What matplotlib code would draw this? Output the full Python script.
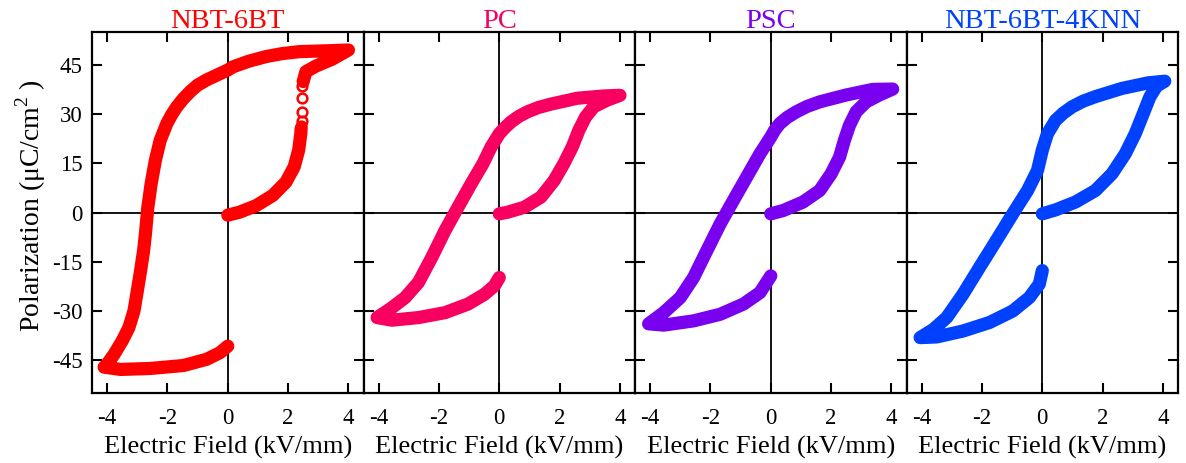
# P-E hysteresis loops for four compositions
import matplotlib
matplotlib.use('Agg')
import matplotlib.pyplot as plt

plt.rcParams['font.family'] = ['Liberation Serif', 'DejaVu Serif']
plt.rcParams['mathtext.fontset'] = 'custom'
plt.rcParams['mathtext.rm'] = 'Liberation Serif'
plt.rcParams['axes.unicode_minus'] = False

# -----------------------------------------------------------------------------
names = ['NBT-6BT', 'PC', 'PSC', 'NBT-6BT-4KNN']
colors = ['#ff0000', '#f7005f', '#7a00f0', '#0040ff']

# NBT-6BT: initial branch (below jump), sparse points in jump, rest of loop
nbt_e0 = [0, 0.39, 0.94, 1.49, 1.93, 2.2, 2.35, 2.42, 2.43]
nbt_p0 = [-0.8, 0.1, 2.1, 5.2, 9.3, 13.9, 19, 24, 25.5]
nbt_ej = [2.44, 2.45, 2.45, 2.45, 2.45]
nbt_pj = [26.5, 28, 30.7, 34.8, 38.5]
nbt_e = [2.5, 2.59, 2.92, 3.46, 4.0, 3.4, 2.37, 1.8, 1.27, 0.7, 0.18, 0, -0.7,
         -1.0, -1.25, -1.48, -1.69, -1.86, -2.02, -2.24, -2.4, -2.54, -2.65,
         -2.73, -2.79, -2.89, -3.0, -3.11, -3.28, -3.5, -3.77, -4.01, -4.1,
         -3.55, -2.57, -1.47, -0.7, -0.26, 0]
nbt_p = [39.9, 42.9, 44.6, 46.7, 49.5, 49.3, 49, 48.4, 47.5, 46.1, 44.4, 43.4,
         40.4, 38.8, 36.8, 34.6, 32.2, 29.8, 27.1, 22, 15.9, 8.8, 1.6,
         -6.5, -11.6, -17.7, -23.9, -30, -35.1, -39.1, -43.2, -46.3, -47.1,
         -47.8, -47.5, -46.6, -44.7, -42.7, -40.7]

pc_e = [0, 0.28, 0.83, 1.38, 1.82, 2.14, 2.42, 2.64, 2.86, 3.13, 3.57, 4.0,
        3.46, 2.58, 1.7, 1.3, 0.94, 0.65, 0.39, 0.18, 0, -0.27, -0.54, -0.93,
        -1.37, -1.8, -2.24, -2.68, -3.12, -3.56, -4.05, -3.56, -2.68, -1.8,
        -1.04, -0.49, -0.16, 0]
pc_p = [-0.4, 0.1, 1.6, 4.7, 9.8, 14.9, 20, 25.1, 29.1, 32.2, 34.2, 35.7,
        35.5, 34.8, 33, 32, 30.7, 29.3, 27.6, 25.8, 24, 20, 14.9, 8.8,
        1.6, -5.5, -13.7, -21.3, -25.9, -29, -32, -32.8, -32, -30.5,
        -27.9, -24.9, -22.3, -19.8]

psc_e = [0, 0.41, 1.07, 1.62, 2.0, 2.28, 2.44, 2.61, 2.83, 3.16, 3.6, 4.04,
         3.38, 2.5, 1.62, 1.2, 0.85, 0.55, 0.3, 0.13, 0, -0.36, -0.8, -1.24,
         -1.68, -2.12, -2.56, -3.0, -3.55, -4.05, -3.55, -2.56, -1.68, -0.91,
         -0.36, 0]
psc_p = [-0.4, 0.6, 3.2, 6.7, 11.8, 16.9, 22, 26.6, 30.7, 33.7, 35.8, 37.6,
         37.5, 35.8, 33.7, 32.3, 30.7, 29, 27.1, 25.1, 23, 17.9, 10.8, 3.7,
         -3.5, -11.6, -19.8, -25.9, -30.5, -33.9, -34.3, -33, -31, -27.9,
         -24.4, -19.3]

knn_e = [0, 0.44, 1.1, 1.76, 2.31, 2.75, 3.08, 3.35, 3.57, 3.79, 4.06,
         3.51, 2.64, 1.76, 1.35, 0.99, 0.7, 0.44, 0.17, 0, -0.16, -0.49,
         -0.98, -1.53, -2.08, -2.63, -3.17, -3.61, -4.05, -3.5, -2.63, -1.75,
         -0.98, -0.43, -0.1, 0]
knn_p = [-0.4, 0.8, 3.2, 6.7, 11.8, 17.9, 24, 30.2, 35.3, 38.5, 40,
         39.5, 37.8, 35.3, 33.9, 32.2, 30.3, 28.1, 24, 19, 12.8, 6.7,
         -0.4, -8.6, -16.7, -24.9, -32, -35.6, -38.1, -37.9, -36.1, -33.5,
         -30, -25.9, -21.8, -17.7]

loops = [(nbt_e, nbt_p), (pc_e, pc_p), (psc_e, psc_p), (knn_e, knn_p)]

# -----------------------------------------------------------------------------
fig, axs = plt.subplots(1, 4, sharey=True, figsize=(11.86, 4.63), dpi=100)
fig.subplots_adjust(left=0.0776, right=0.9933, top=0.931, bottom=0.151, wspace=0)

lw = 9.5
for ax, name, col, (ee, pp) in zip(axs, names, colors, loops):
    ax.axhline(0, color='k', lw=1.3, zorder=1)
    ax.axvline(0, color='k', lw=1.3, zorder=1)
    ax.plot(ee, pp, color=col, lw=lw, solid_capstyle='round',
            solid_joinstyle='round', zorder=3)
    ax.set_xlim(-4.5, 4.5); ax.set_ylim(-55, 55)
    ax.set_xticks([-4, -2, 0, 2, 4])
    ax.set_yticks([-45, -30, -15, 0, 15, 30, 45])
    ax.tick_params(direction='in', top=True, right=True, length=7, width=1.5,
                   labelsize=16.5)
    ax.tick_params(axis='x', pad=11)
    ax.tick_params(axis='y', pad=7)
    for sp in ax.spines.values():
        sp.set_linewidth(1.6)
    ax.set_xlabel('Electric Field (kV/mm)', fontsize=19, labelpad=5)
    ax.set_title(name, color=col, fontsize=20.5, pad=3)

# NBT-6BT initial branch and the sparse jump points
axs[0].plot(nbt_e0, nbt_p0, color=colors[0], lw=lw, solid_capstyle='round',
            solid_joinstyle='round', zorder=3)
axs[0].plot(nbt_ej, nbt_pj, 'o', ms=7, mfc='none', mec=colors[0], mew=1.8, zorder=3)

axs[0].set_ylabel('Polarization (μC/cm$^{\\mathregular{2}}$ )', fontsize=20)
axs[0].yaxis.set_label_coords(-0.163, 0.52)

fig.savefig('out.png', dpi=100)
